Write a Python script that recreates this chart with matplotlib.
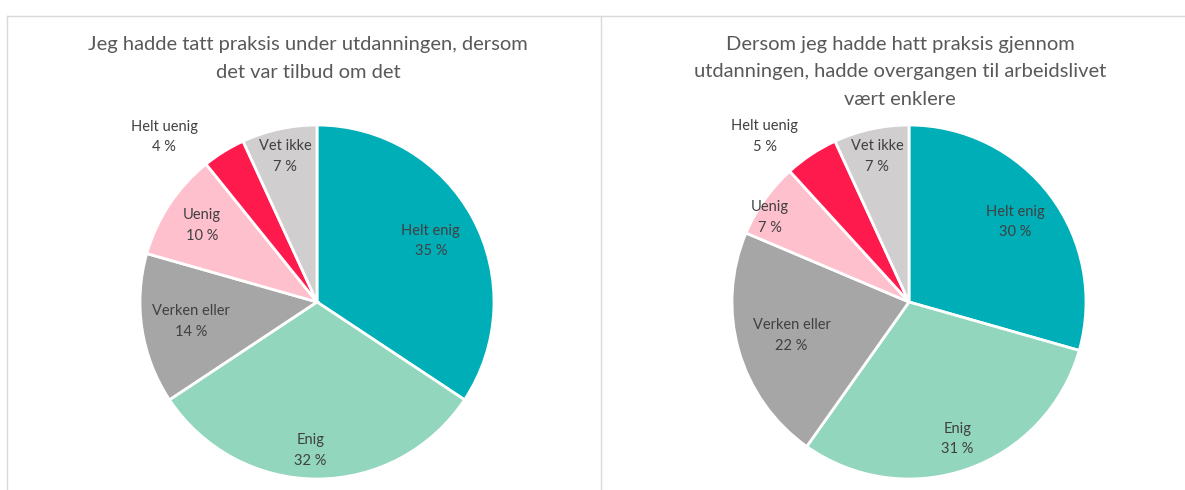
import matplotlib
matplotlib.use('Agg')
import matplotlib.pyplot as plt
import numpy as np
from matplotlib.lines import Line2D

categories = ['Helt enig', 'Enig', 'Verken eller', 'Uenig', 'Helt uenig', 'Vet ikke']
left_values = [35, 32, 14, 10, 4, 7]
right_values = [30, 31, 22, 7, 5, 7]
left_title = 'Jeg hadde tatt praksis under utdanningen, dersom\ndet var tilbud om det'
right_title = 'Dersom jeg hadde hatt praksis gjennom\nutdanningen, hadde overgangen til arbeidslivet\nvært enklere'

colors = ['#00AEB8', '#92D6BE', '#A6A6A6', '#FFC0CE', '#FF1A4E', '#D0CECE']
# label placement: distance from centre (in radii) and angle nudge (deg)
left_dist = [0.73, 0.84, 0.72, 0.78, 1.27, 0.84]
left_nudge = [0, -2.5, 0, 0, 11, 0]
right_dist = [0.75, 0.82, 0.69, 0.92, 1.24, 0.84]
right_nudge = [0, 0, 0, 4, 7.5, 0]

plt.rcParams['font.family'] = ['Lato', 'DejaVu Sans']

W, H = 1185, 490
fig = plt.figure(figsize=(W / 100, H / 100), dpi=100)
R = 177


def draw_pie(cx, cy, values, dists, nudges, title, title_x):
    ax = fig.add_axes([(cx - R) / W, (H - cy - R) / H, 2 * R / W, 2 * R / H])
    wedges, _ = ax.pie(values, colors=colors, startangle=90, counterclock=False,
                       radius=1, wedgeprops=dict(edgecolor='white', linewidth=2))
    ax.set_xlim(-1, 1)
    ax.set_ylim(-1, 1)
    ax.set_aspect('equal')
    ax.axis('off')
    for w, cat, v, d, n in zip(wedges, categories, values, dists, nudges):
        ang = np.deg2rad((w.theta1 + w.theta2) / 2 + n)
        ax.text(d * np.cos(ang), d * np.sin(ang), f'{cat}\n{v} %',
                ha='center', va='center', fontsize=10.5, color='#404040',
                linespacing=1.6)
    fig.text(title_x / W, 1 - 36 / H, title, ha='center', va='top',
             fontsize=14.5, color='#595959', linespacing=1.75)


draw_pie(317, 302, left_values, left_dist, left_nudge, left_title, 308)
draw_pie(909, 302, right_values, right_dist, right_nudge, right_title, 900)

# frame lines
line_color = '#D9D9D9'
fig.add_artist(Line2D([7 / W, 1], [1 - 16 / H, 1 - 16 / H], color=line_color, lw=1))
fig.add_artist(Line2D([7 / W, 7 / W], [0, 1 - 16 / H], color=line_color, lw=1))
fig.add_artist(Line2D([601 / W, 601 / W], [0, 1 - 16 / H], color=line_color, lw=1))

fig.savefig('out.png', dpi=100)
